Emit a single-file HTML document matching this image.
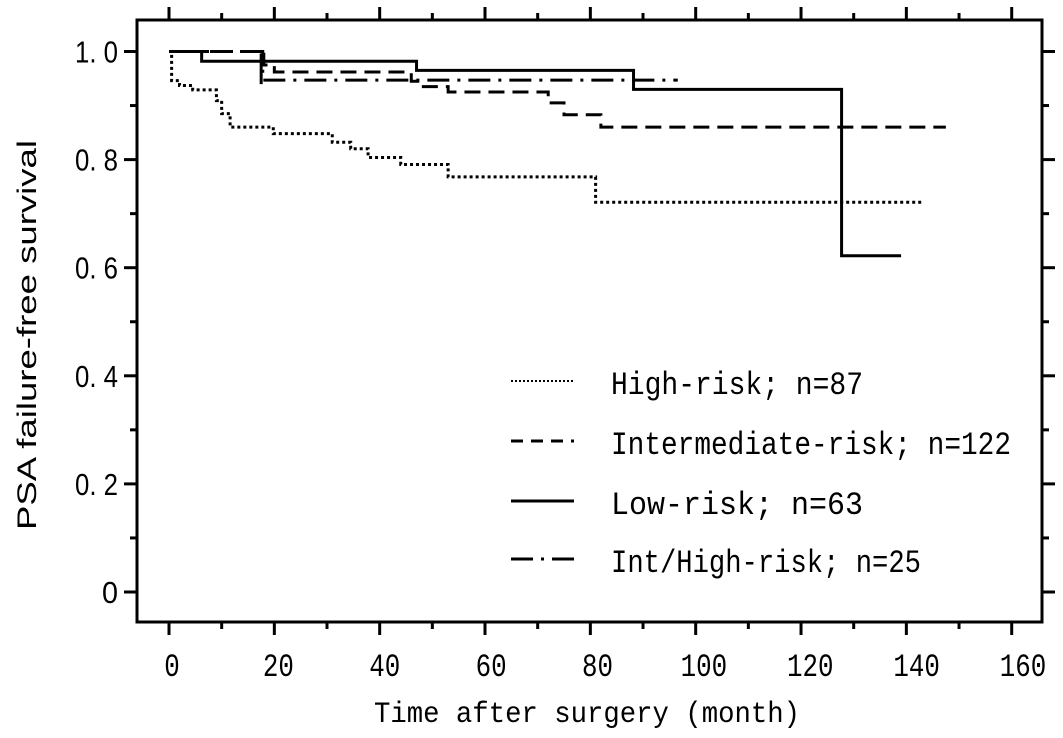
<!DOCTYPE html>
<html><head><meta charset="utf-8"><style>
html,body{margin:0;padding:0;background:#fff;}
svg text{font-family:"Liberation Mono","Noto Sans CJK JP",monospace;fill:#000;}
</style></head><body>
<svg id="chart" width="1063" height="733" viewBox="0 0 1063 733" xmlns="http://www.w3.org/2000/svg"></svg>
<script>
const xTicks=[0,20,40,60,80,100,120,140,160];
const yTicks=[0,0.2,0.4,0.6,0.8,1.0];
const yTickLabels=["0","0. 2","0. 4","0. 6","0. 8","1. 0"];
const highT=[0,0.5,2,4.5,9,10,11.6,19.8,31,34.5,37.8,44,53,81];
const highS=[1.0,0.946,0.937,0.929,0.909,0.885,0.86,0.848,0.832,0.82,0.804,0.791,0.768,0.721];
const highEnd=143;
const intT=[0,18,20,46,48,53,72,75,82];
const intS=[1.0,0.975,0.962,0.945,0.935,0.925,0.905,0.883,0.86];
const intEnd=147.5;
const lowT=[0,6.2,47,88.2,127.7];
const lowS=[1.0,0.982,0.965,0.93,0.622];
const lowEnd=139;
const ihT=[0,17.8];
const ihS=[1.0,0.947];
const ihEnd=96.6;
const legendLabels=["High-risk; n=87","Intermediate-risk; n=122","Low-risk; n=63","Int/High-risk; n=25"];

const NS="http://www.w3.org/2000/svg";
const svg=document.getElementById('chart');
const X=t=>169+t*(1011.7-169)/160;
const XL=t=>172+t*(1023-172)/160;
const Y=s=>592-s*540.5;
const L=137,R=1042,T=20,B=622;
function el(tag,attrs,parent){const e=document.createElementNS(NS,tag);for(const k in attrs)e.setAttribute(k,attrs[k]);(parent||svg).appendChild(e);return e;}

const frame=el('rect',{x:L,y:T,width:R-L,height:B-T,fill:'none',stroke:'#000','stroke-width':3});



const gx=el('g',{});


for(let v=0;v<=160;v+=10){
  const major=v%20===0;const x=X(v);
  el('line',{x1:x,y1:B,x2:x,y2:B+(major?13:7),stroke:'#000','stroke-width':3},gx);
  el('line',{x1:x,y1:T,x2:x,y2:T-(major?13:7),stroke:'#000','stroke-width':3},gx);
}
xTicks.forEach(v=>{
  const s=String(v);
  const t=el('text',{x:XL(v),y:676,'text-anchor':'middle','font-size':32,textLength:15.5*s.length,lengthAdjust:'spacingAndGlyphs'},gx);
  
  
  t.textContent=s;
});
const xt=el('text',{x:587,y:722,'text-anchor':'middle','font-size':30,textLength:426,lengthAdjust:'spacingAndGlyphs'});


xt.textContent='Time after surgery (month)';

const gy=el('g',{});


for(let i=0;i<=10;i++){
  const v=i/10;const major=i%2===0;const y=Y(v);
  el('line',{x1:L,y1:y,x2:L-(major?13:7),y2:y,stroke:'#000','stroke-width':3},gy);
  el('line',{x1:R,y1:y,x2:R+(major?13:7),y2:y,stroke:'#000','stroke-width':3},gy);
}
yTicks.forEach((v,i)=>{
  const lab=yTickLabels[i];
  const t=el('text',{x:118,y:Y(v)+11,'text-anchor':'end','font-size':31,textLength:lab.length>1?43:16,lengthAdjust:'spacingAndGlyphs',style:'font-family:"Liberation Sans",sans-serif'},gy);
  
  
  t.textContent=lab;
});
const yt=el('text',{x:0,y:0,'text-anchor':'middle','font-size':27,textLength:390,lengthAdjust:'spacingAndGlyphs',transform:'translate(36,335) rotate(-90)',style:'font-family:"Liberation Sans",sans-serif'});


yt.textContent='PSA failure-free survival';

function stepPath(ts,ss,end){
  let d='M'+X(ts[0])+','+Y(ss[0]);
  for(let i=1;i<ts.length;i++){d+=' H'+X(ts[i])+' V'+Y(ss[i]);}
  d+=' H'+X(end);return d;
}
const styles={
  high:{dash:'3,3',w:3},
  inter:{dash:'16,8',w:3},
  low:{dash:'',w:3},
  ih:{dash:'22,8,3,8',w:3}
};
function drawSeries(name,ts,ss,end,st){
  const p=el('path',{d:stepPath(ts,ss,end),fill:'none',stroke:'#000','stroke-width':st.w});
  if(st.dash)p.setAttribute('stroke-dasharray',st.dash);
  
  
}
drawSeries('high-risk-curve',highT,highS,highEnd,styles.high);
drawSeries('intermediate-risk-curve',intT,intS,intEnd,styles.inter);
drawSeries('low-risk-curve',lowT,lowS,lowEnd,styles.low);
drawSeries('int-high-risk-curve',ihT,ihS,ihEnd,styles.ih);
const cm=el('line',{x1:X(17.5),y1:Y(1.0)+2,x2:X(17.5),y2:Y(0.947)+4,stroke:'#000','stroke-width':3});



const lg=el('g',{});


const legStyles=[{dash:'2,2',w:2},{dash:'12,8',w:3},{dash:'',w:3},{dash:'22,8,3,8',w:3}];
const legY=[381,441,501,559];
const legW=[252,400,252,310];
legendLabels.forEach((lab,i)=>{
  const g=el('g',{},lg);
  
  
  const ln=el('line',{x1:511,y1:legY[i],x2:574,y2:legY[i],stroke:'#000','stroke-width':legStyles[i].w},g);
  if(legStyles[i].dash)ln.setAttribute('stroke-dasharray',legStyles[i].dash);
  const t=el('text',{x:611,y:legY[i]+13,'font-size':32,textLength:legW[i],lengthAdjust:'spacingAndGlyphs'},g);
  t.textContent=lab;
});
</script>
</body></html>
